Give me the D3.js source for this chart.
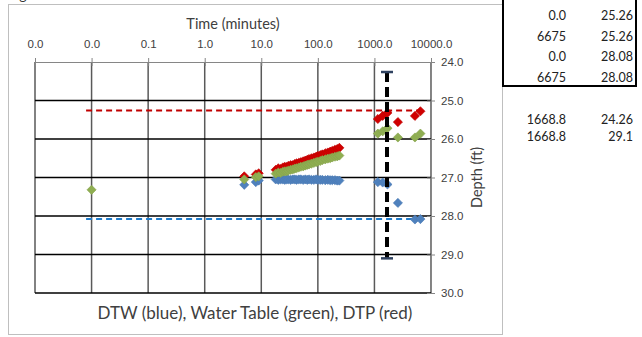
<!DOCTYPE html>
<html>
<head>
<meta charset="utf-8">
<script src="https://cdnjs.cloudflare.com/ajax/libs/d3/7.8.5/d3.min.js"></script>
<style>
  body { margin: 0; background: #fff; }
  svg { display: block; font-family: Lato, "Noto Sans", sans-serif; }
</style>
</head>
<body>
<svg width="642" height="337"></svg>
<script>
// time (minutes) of each reading
var times = [0.01, 5, 8, 9,
  18, 20, 22, 24, 26, 28, 30, 33, 36, 39, 42, 46, 50, 55, 60, 65,
  70, 77, 85, 93, 100, 110, 120, 135, 150, 165, 180, 200, 220, 240,
  1150, 1400, 1700, 2600, 5200, 6500];

// depth to water (blue)
var dtw = [null, 27.19, 27.12, 27.08,
  27.05, 27.06, 27.05, 27.05, 27.06, 27.05, 27.05, 27.06, 27.05, 27.05, 27.06, 27.05, 27.05, 27.06, 27.05, 27.06,
  27.05, 27.06, 27.06, 27.05, 27.06, 27.06, 27.06, 27.07, 27.06, 27.07, 27.07, 27.07, 27.08, 27.08,
  27.12, 27.13, 27.18, 27.66, 28.09, 28.08];

// water table (green)
var waterTable = [27.32, 27.05, 26.99, 26.97,
  26.90, 26.87, 26.88, 26.85, 26.84, 26.84, 26.82, 26.80, 26.79, 26.77, 26.76, 26.74, 26.72, 26.71, 26.69, 26.67,
  26.66, 26.64, 26.62, 26.60, 26.59, 26.57, 26.55, 26.53, 26.51, 26.50, 26.48, 26.46, 26.45, 26.43,
  25.86, 25.80, 25.72, 25.96, 25.96, 25.86];

// depth to product (red)
var dtp = [null, 26.97, 26.92, 26.89,
  26.80, 26.76, 26.78, 26.74, 26.72, 26.73, 26.70, 26.68, 26.68, 26.65, 26.63, 26.62, 26.60, 26.58, 26.56, 26.54,
  26.52, 26.50, 26.48, 26.46, 26.44, 26.42, 26.40, 26.37, 26.35, 26.33, 26.31, 26.28, 26.26, 26.23,
  25.48, 25.40, 25.32, 25.56, 25.40, 25.28];

// reference lines (table at right)
var refTimes = [0.008, 6675];
var dtpRef = [25.26, 25.26];
var dtwRef = [28.08, 28.08];
var markTime = [1668.8, 1668.8];
var markDepth = [24.26, 29.1];

var timeTicks = [0.001, 0.01, 0.1, 1, 10, 100, 1000, 10000];
var depthTicks = [24, 25, 26, 27, 28, 29, 30];

var tableRows = [["0.0", "25.26"], ["6675", "25.26"], ["0.0", "28.08"], ["6675", "28.08"]];
var tableRows2 = [["1668.8", "24.26"], ["1668.8", "29.1"]];

var svg = d3.select("svg");

var margin = { left: 35, right: 431, top: 62, bottom: 293 };

var x = d3.scaleLog().domain([0.001, 10000]).range([margin.left, margin.right]);
var y = d3.scaleLinear().domain([24, 30]).range([margin.top, margin.bottom]);

// chart frame
svg.append("rect")
  .attr("x", 8.5).attr("y", 4.5)
  .attr("width", 494).attr("height", 330)
  .attr("fill", "none").attr("stroke", "#bfbfbf").attr("stroke-width", 1);

// clipped caption above the chart
svg.append("text")
  .attr("x", 8).attr("y", 0)
  .style("font-size", "14px").attr("fill", "#333")
  .text("Figure");

// gridlines
svg.append("g").selectAll("line")
  .data(timeTicks)
  .enter().append("line")
  .attr("x1", function(d) { return x(d); })
  .attr("x2", function(d) { return x(d); })
  .attr("y1", margin.top).attr("y2", margin.bottom)
  .attr("stroke", "#595959").attr("stroke-width", 1.5);

svg.append("g").selectAll("line")
  .data(depthTicks.slice(1))
  .enter().append("line")
  .attr("x1", margin.left).attr("x2", margin.right)
  .attr("y1", function(d) { return y(d); })
  .attr("y2", function(d) { return y(d); })
  .attr("stroke", "#000").attr("stroke-width", 1.3);

// top axis
var xAxis = d3.axisTop(x)
  .tickValues(timeTicks)
  .tickFormat(function(d) { return d.toFixed(1); })
  .tickSizeInner(4).tickSizeOuter(0).tickPadding(10);

var xGroup = svg.append("g")
  .attr("transform", "translate(0," + margin.top + ")")
  .call(xAxis);
xGroup.selectAll(".tick line").attr("y1", 4).attr("stroke", "#868686");
xGroup.select(".domain").attr("stroke", "#868686");
xGroup.selectAll("text").style("font-size", "11.5px").attr("fill", "#404040");

// right axis
var yAxis = d3.axisRight(y)
  .tickValues(depthTicks)
  .tickFormat(d3.format(".1f"))
  .tickSizeInner(4).tickSizeOuter(0).tickPadding(6);

var yGroup = svg.append("g")
  .attr("transform", "translate(" + margin.right + ",0)")
  .call(yAxis);
yGroup.selectAll(".tick line").attr("x1", -4).attr("stroke", "#868686");
yGroup.select(".domain").attr("stroke", "#868686");
yGroup.selectAll("text").style("font-size", "11.5px").attr("fill", "#404040");

// axis titles
svg.append("text")
  .attr("x", (margin.left + margin.right) / 2).attr("y", 29)
  .style("text-anchor", "middle").style("font-size", "14.5px").attr("fill", "#404040")
  .text("Time (minutes)");

svg.append("text")
  .attr("transform", "translate(482," + ((margin.top + margin.bottom) / 2) + ") rotate(-90)")
  .style("text-anchor", "middle").style("font-size", "14.5px").attr("fill", "#404040")
  .text("Depth (ft)");

svg.append("text")
  .attr("x", 255).attr("y", 319)
  .style("text-anchor", "middle").style("font-size", "17px").attr("fill", "#404040")
  .text("DTW (blue), Water Table (green), DTP (red)");

// reference dashed lines
var refLine = d3.line()
  .x(function(d) { return x(d[0]); })
  .y(function(d) { return y(d[1]); });

svg.append("path")
  .datum(d3.zip(refTimes, dtpRef))
  .attr("d", refLine)
  .attr("fill", "none").attr("stroke", "#c00000")
  .attr("stroke-width", 2).attr("stroke-dasharray", "6,4");

svg.append("path")
  .datum(d3.zip(refTimes, dtwRef))
  .attr("d", refLine)
  .attr("fill", "none").attr("stroke", "#1f7ccc")
  .attr("stroke-width", 2).attr("stroke-dasharray", "6,4");

// markers
var diamond = d3.symbol().type(d3.symbolSquare).size(42);

var drawSeries = function(values, fill, stroke) {
  var pts = [];
  for (var i = 0; i < times.length; i++) {
    if (values[i] != null) pts.push([times[i], values[i]]);
  }
  svg.append("g").selectAll("path")
    .data(pts)
    .enter().append("path")
    .attr("d", diamond)
    .attr("transform", function(d) {
      return "translate(" + x(d[0]) + "," + y(d[1]) + ") rotate(45)";
    })
    .attr("fill", fill)
    .attr("stroke", stroke).attr("stroke-width", 0.6);
};

drawSeries(dtw, "#4f81bd", "#4a7ab5");
drawSeries(dtp, "#d00000", "#c00000");
drawSeries(waterTable, "#8fae52", "#86a34a");

// vertical marker line with caps
svg.append("path")
  .datum(d3.zip(markTime, markDepth))
  .attr("d", refLine)
  .attr("fill", "none").attr("stroke", "#000")
  .attr("stroke-width", 4).attr("stroke-dasharray", "10,5");

svg.append("g").selectAll("line")
  .data(markDepth)
  .enter().append("line")
  .attr("x1", x(markTime[0]) - 6).attr("x2", x(markTime[0]) + 6)
  .attr("y1", function(d) { return y(d); })
  .attr("y2", function(d) { return y(d); })
  .attr("stroke", "#2f4260").attr("stroke-width", 2.5);

// data table at right
svg.append("rect")
  .attr("x", 503).attr("y", -2)
  .attr("width", 133).attr("height", 88)
  .attr("fill", "none").attr("stroke", "#000").attr("stroke-width", 2);

var drawRows = function(rows, top, step) {
  rows.forEach(function(r, i) {
    svg.append("text")
      .attr("x", 566).attr("y", top + i * step)
      .style("text-anchor", "end").style("font-size", "12.5px").attr("fill", "#222")
      .text(r[0]);
    svg.append("text")
      .attr("x", 633).attr("y", top + i * step)
      .style("text-anchor", "end").style("font-size", "12.5px").attr("fill", "#222")
      .text(r[1]);
  });
};
drawRows(tableRows, 20, 20.7);
drawRows(tableRows2, 124, 17);
</script>
</body>
</html>
